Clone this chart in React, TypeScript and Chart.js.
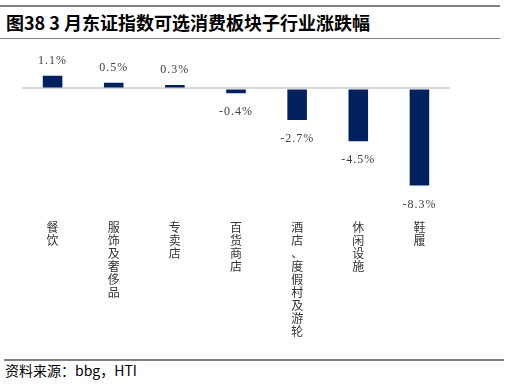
import React, { useEffect, useRef } from "react";
import { Chart, registerables } from "chart.js";

Chart.register(...registerables);

const categories: string[] = ["餐饮", "服饰及奢侈品", "专卖店", "百货商店", "酒店、度假村及游轮", "休闲设施", "鞋履"];
const changes: number[] = [1.1, 0.5, 0.3, -0.4, -2.7, -4.5, -8.3];
const titleText = "图38 3 月东证指数可选消费板块子行业涨跌幅";
const sourceText = "资料来源：bbg，HTI";

const labelPlugin = {
  id: "valueLabels",
  afterDatasetsDraw(chart: any) {
    const ctx = chart.ctx;
    const meta = chart.getDatasetMeta(0);
    ctx.save();
    ctx.font = '12px "Liberation Serif", "DejaVu Serif", serif';
    ctx.fillStyle = "#404040";
    ctx.textAlign = "center";
    ctx.textBaseline = "middle";
    try {
      (ctx as any).letterSpacing = "1px";
    } catch (e) {}
    meta.data.forEach((bar: any, i: number) => {
      const v = changes[i];
      const txt = v.toFixed(1) + "%";
      const y = v >= 0 ? bar.y - 15 : bar.y + 19;
      ctx.fillText(txt, bar.x, y);
    });
    ctx.restore();
  },
};

export default function App() {
  const canvasRef = useRef<HTMLCanvasElement | null>(null);

  useEffect(() => {
    if (!canvasRef.current) return;
    const chart = new Chart(canvasRef.current, {
      type: "bar",
      data: {
        labels: categories.map((c) => c.split("")),
        datasets: [
          {
            data: changes,
            backgroundColor: "#002060",
            categoryPercentage: 1,
            barPercentage: 0.32,
          },
        ],
      },
      options: {
        animation: false,
        responsive: false,
        maintainAspectRatio: false,
        layout: { padding: { left: 22, right: 55, top: 13.4, bottom: 0 } },
        plugins: { legend: { display: false }, tooltip: { enabled: false } },
        scales: {
          x: {
            grid: { display: false, drawTicks: false },
            border: { display: false },
            ticks: {
              maxRotation: 0,
              minRotation: 0,
              autoSkip: false,
              padding: 15,
              color: "#333333",
              font: { family: '"Noto Sans CJK SC", sans-serif', size: 12, lineHeight: 1.09 },
            },
            afterFit: (scale: any) => {
              scale.height = 150.5;
            },
          },
          y: {
            min: -10,
            max: 3,
            ticks: { display: false, stepSize: 1 },
            border: { display: false },
            grid: {
              drawTicks: false,
              lineWidth: 2,
              color: (c: any) => (c.tick && c.tick.value === 0 ? "#d9d9d9" : "rgba(0,0,0,0)"),
            },
            afterFit: (scale: any) => {
              scale.width = 0;
            },
          },
        },
      },
      plugins: [labelPlugin],
    });
    return () => chart.destroy();
  }, []);

  return (
    <div style={{ position: "absolute", left: 0, top: 0, width: 505, height: 384, background: "#fff", overflow: "hidden" }}>
      <div style={{ position: "absolute", left: 0, top: 5, width: 500, height: 2, background: "#808080" }} />
      <div
        style={{
          position: "absolute",
          left: 6,
          top: 11,
          fontFamily: '"Noto Sans CJK SC", sans-serif',
          fontWeight: 700,
          fontSize: 18,
          lineHeight: "22px",
          color: "#000",
          whiteSpace: "nowrap",
        }}
      >
        {titleText}
      </div>
      <div style={{ position: "absolute", left: 0, top: 38, width: 500, height: 1, background: "#808080" }} />
      <canvas ref={canvasRef} width={505} height={316} style={{ position: "absolute", left: 0, top: 40, width: 505, height: 316 }} />
      <div style={{ position: "absolute", left: 4, top: 359, width: 500, height: 2, background: "#808080" }} />
      <div
        style={{
          position: "absolute",
          left: 5,
          top: 361,
          fontFamily: '"Noto Sans CJK SC", sans-serif',
          fontSize: 14,
          lineHeight: "18px",
          color: "#000",
          whiteSpace: "nowrap",
        }}
      >
        {sourceText}
      </div>
    </div>
  );
}
